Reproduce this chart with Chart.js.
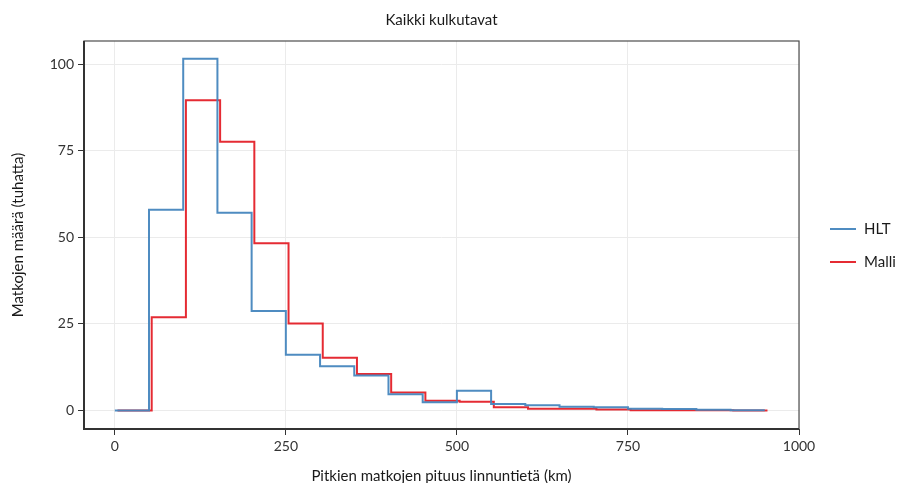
<!DOCTYPE html>
<html>
<head>
<meta charset="utf-8">
<script src="https://cdn.jsdelivr.net/npm/chart.js@4"></script>
<style>
  html, body { margin: 0; padding: 0; background: #fff; }
  #wrap { width: 904px; height: 483px; }
</style>
</head>
<body>
<div id="wrap"><canvas id="myChart" width="904" height="483"></canvas></div>
<script>
// 50 km bins, 0 - 950 km
const binStart = [0, 50, 100, 150, 200, 250, 300, 350, 400, 450, 500, 550, 600, 650, 700, 750, 800, 850, 900];
const binEnd = 950;

// trips per bin (thousands)
const hlt = [0, 58.0, 101.6, 57.1, 28.7, 16.1, 12.8, 10.1, 4.7, 2.4, 5.7, 1.9, 1.5, 1.1, 0.9, 0.5, 0.4, 0.2, 0.1];
const malli = [0, 26.9, 89.6, 77.6, 48.3, 25.1, 15.2, 10.5, 5.2, 2.8, 2.5, 0.9, 0.5, 0.5, 0.3, 0.1, 0.1, 0.05, 0.0];

const xTicks = [0, 250, 500, 750, 1000];
const yTicks = [0, 25, 50, 75, 100];

const FONT = 'Lato, "Open Sans", sans-serif';

// each bin value held from its start to the next bin start
function steps(values) {
  const pts = binStart.map((x, i) => ({ x: x, y: values[i] }));
  pts.push({ x: binEnd, y: values[values.length - 1] });
  return pts;
}

// panel border + right-hand legend
const panelPlugin = {
  id: 'panel',
  beforeDatasetDraw(chart, args) {
    if (args.index === 1) {
      chart.ctx.save();
      chart.ctx.translate(2.7, 0);
    }
  },
  afterDatasetDraw(chart, args) {
    if (args.index === 1) chart.ctx.restore();
  },
  afterDraw(chart) {
    const ctx = chart.ctx;
    const a = chart.chartArea;
    ctx.save();
    ctx.strokeStyle = '#4d4d4d';
    ctx.lineWidth = 1.2;
    ctx.strokeRect(a.left, a.top, a.right - a.left, a.bottom - a.top);
    ctx.strokeStyle = '#333';
    ctx.lineWidth = 2;
    ctx.beginPath();
    ctx.moveTo(a.left, a.top);
    ctx.lineTo(a.left, a.bottom);
    ctx.lineTo(a.right, a.bottom);
    ctx.stroke();

    ctx.font = '15px ' + FONT;
    ctx.textBaseline = 'middle';
    chart.data.datasets.forEach((ds, i) => {
      const y = 229 + i * 33;
      ctx.strokeStyle = ds.borderColor;
      ctx.lineWidth = 2;
      ctx.beginPath();
      ctx.moveTo(830, y);
      ctx.lineTo(856, y);
      ctx.stroke();
      ctx.fillStyle = '#1a1a1a';
      ctx.fillText(ds.label, 864, y);
    });
    ctx.restore();
  }
};

const ctx = document.getElementById('myChart');
const myChart = new Chart(ctx, {
  type: 'line',
  data: {
    datasets: [
      { label: 'HLT', data: steps(hlt), borderColor: 'rgba(70, 134, 190, 0.95)', borderWidth: 2, stepped: 'before', pointRadius: 0, fill: false },
      { label: 'Malli', data: steps(malli), borderColor: 'rgba(228, 32, 40, 0.95)', borderWidth: 2, stepped: 'before', pointRadius: 0, fill: false }
    ]
  },
  options: {
    responsive: false,
    animation: false,
    layout: { padding: { left: 0, right: 105, top: 0, bottom: 0 } },
    plugins: {
      legend: { display: false },
      tooltip: { enabled: false },
      title: {
        display: true,
        text: 'Kaikki kulkutavat',
        fullSize: false,
        color: '#1a1a1a',
        font: { family: FONT, size: 15, weight: 'normal' },
        padding: { top: 11, bottom: 12 }
      }
    },
    scales: {
      x: {
        type: 'linear',
        min: -45,
        max: 1000,
        afterBuildTicks: s => { s.ticks = xTicks.map(v => ({ value: v })); },
        afterFit: s => { s.height = 54; },
        ticks: { includeBounds: false, color: '#333', font: { family: FONT, size: 14 }, padding: 3, maxRotation: 0, callback: v => String(v) },
        grid: { color: '#ebebeb', tickColor: '#333', tickLength: 6, lineWidth: 1 },
        border: { display: false },
        title: { display: true, text: 'Pitkien matkojen pituus linnuntietä (km)', color: '#1a1a1a', font: { family: FONT, size: 15 }, padding: { top: 0, bottom: -2 } }
      },
      y: {
        type: 'linear',
        min: -5.35,
        max: 106.7,
        afterBuildTicks: s => { s.ticks = yTicks.map(v => ({ value: v })); },
        afterFit: s => { s.width = 84; },
        ticks: { includeBounds: false, color: '#333', font: { family: FONT, size: 14 }, padding: 4 },
        grid: { color: '#ebebeb', tickColor: '#333', tickLength: 6, lineWidth: 1 },
        border: { display: false },
        title: { display: true, text: 'Matkojen määrä (tuhatta)', color: '#1a1a1a', font: { family: FONT, size: 15 }, padding: { top: 9, bottom: 0 } }
      }
    }
  },
  plugins: [panelPlugin]
});
</script>
</body>
</html>
